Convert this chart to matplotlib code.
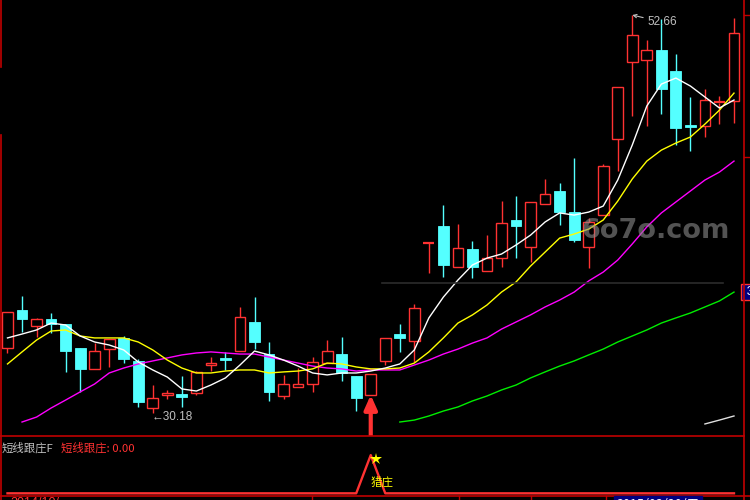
import matplotlib
matplotlib.use('Agg')
import matplotlib.pyplot as plt
import matplotlib.transforms as mtransforms
from matplotlib.patches import Rectangle
import numpy as np

# ---------------- data ----------------
opens = [33.85, 35.99, 35.09, 35.49, 35.21, 33.85, 32.67, 33.79, 34.42, 33.12,
         30.46, 31.20, 31.25, 31.31, 32.89, 33.29, 33.68, 35.32, 33.51, 31.14,
         31.65, 31.82, 33.00, 33.51, 32.27, 31.20, 33.12, 34.64, 34.25, 39.78,
         40.74, 38.43, 39.44, 38.20, 38.93, 41.08, 39.56, 41.98, 42.72, 41.53,
         39.56, 41.36, 45.66, 50.00, 50.12, 50.68, 49.50, 46.45, 46.39, 47.69, 47.80]
highs = [35.88, 36.79, 35.55, 35.83, 35.21, 33.85, 34.13, 34.36, 34.53, 33.23,
         31.76, 31.48, 32.27, 32.55, 33.34, 33.63, 36.17, 36.73, 34.19, 32.33,
         32.72, 33.34, 34.30, 34.47, 32.27, 32.38, 34.42, 35.21, 36.34, 39.78,
         41.93, 40.85, 39.89, 40.23, 42.15, 42.44, 42.10, 43.40, 43.17, 44.58,
         41.20, 44.24, 48.59, 52.66, 51.25, 52.43, 50.46, 48.03, 48.48, 48.09, 52.49]
lows = [33.57, 34.75, 34.47, 34.70, 32.50, 31.37, 32.67, 32.78, 33.00, 30.52,
        30.18, 30.97, 30.52, 31.20, 32.55, 32.61, 33.68, 33.79, 30.86, 30.97,
        31.65, 31.37, 33.00, 31.99, 30.29, 31.20, 32.89, 33.63, 33.06, 38.09,
        37.86, 38.43, 37.80, 38.20, 38.43, 38.93, 38.71, 41.98, 40.80, 39.85,
        38.37, 41.36, 43.85, 46.95, 46.39, 47.07, 45.32, 44.98, 45.77, 46.50, 46.56]
closes = [35.88, 35.49, 35.49, 35.21, 33.68, 32.67, 33.68, 34.36, 33.23, 30.80,
          31.03, 31.31, 31.08, 32.50, 33.00, 33.17, 35.60, 34.19, 31.37, 31.82,
          31.82, 33.06, 33.68, 32.44, 31.03, 32.38, 34.42, 34.42, 36.11, 39.78,
          38.54, 39.50, 38.43, 38.93, 40.91, 40.74, 42.10, 42.55, 41.53, 39.95,
          40.97, 44.13, 48.59, 51.53, 50.68, 48.48, 46.28, 46.33, 47.86, 47.75, 51.64]

ma5 = [34.42, 34.64, 34.87, 35.26, 35.15, 34.53, 34.19, 34.02, 33.74, 33.06,
       32.61, 32.21, 31.54, 31.42, 31.76, 32.16, 32.89, 33.68, 33.46, 33.17,
       32.83, 32.44, 32.33, 32.44, 32.44, 32.55, 32.72, 32.95, 33.74, 35.55,
       36.73, 37.69, 38.54, 38.93, 39.16, 39.67, 40.23, 40.97, 41.48, 41.36,
       41.53, 41.87, 43.34, 45.32, 47.52, 48.76, 49.10, 48.65, 48.03, 47.41, 47.86]
ma10 = [32.95, 33.63, 34.30, 34.81, 34.87, 34.53, 34.42, 34.42, 34.42, 34.19,
        33.74, 33.17, 32.72, 32.44, 32.44, 32.55, 32.61, 32.61, 32.44, 32.50,
        32.55, 32.67, 33.00, 32.95, 32.78, 32.67, 32.67, 32.72, 33.00, 33.63,
        34.42, 35.26, 35.72, 36.28, 37.01, 37.58, 38.48, 39.27, 40.06, 40.29,
        40.57, 41.08, 42.15, 43.40, 44.41, 45.03, 45.43, 45.77, 46.50, 47.29, 48.25]
ma20 = [None, 29.67, 29.95, 30.46, 30.91, 31.37, 31.82, 32.44, 32.72, 32.95,
        33.12, 33.29, 33.46, 33.57, 33.63, 33.57, 33.51, 33.51, 33.34, 33.17,
        33.00, 32.83, 32.72, 32.67, 32.55, 32.61, 32.61, 32.61, 32.89, 33.17,
        33.51, 33.79, 34.13, 34.42, 34.92, 35.32, 35.72, 36.17, 36.56, 37.01,
        37.64, 38.14, 38.82, 39.73, 40.69, 41.48, 42.10, 42.72, 43.34, 43.79, 44.41]
ma60 = [None] * 27 + [29.67, 29.78, 30.01, 30.29, 30.52, 30.86, 31.14, 31.48,
                      31.76, 32.16, 32.50, 32.83, 33.12, 33.46, 33.79, 34.19,
                      34.53, 34.87, 35.26, 35.55, 35.83, 36.17, 36.51, 37.01]
ma_long = [None] * 48 + [29.56, 29.78, 30.01]

signal = [0] * 25 + [1] + [0] * 25

indicator_name = "短线跟庄F"
indicator_value = "短线跟庄: 0.00"
signal_label = "猎庄"
date_label = "2015/03/20/五"

# ---------------- style ----------------
RED = '#ff3232'
CYAN = '#54ffff'
GRAY = '#c0c0c0'
BORDER = '#c00000'

W, H = 750, 500
fig = plt.figure(figsize=(7.5, 5), dpi=100, facecolor='black')


def box(x0, y0, x1, y1):
    return [x0 / W, 1 - y1 / H, (x1 - x0) / W, (y1 - y0) / H]


ax = fig.add_axes(box(0, 0, 743, 436))
ax2 = fig.add_axes(box(0, 436, 743, 496))
for a in (ax, ax2):
    a.set_facecolor('black')
    for s in a.spines.values():
        s.set_visible(False)
    a.set_xticks([])
    a.set_yticks([])
    a.set_xlim(-0.516, 50.62)

ax.set_ylim(28.88, 53.51)
ax2.set_ylim(-0.07, 1.5)

n = len(opens)
x = np.arange(n)
bw = 0.74

for i, (o, h, l, c) in enumerate(zip(opens, highs, lows, closes)):
    top, bot = max(o, c), min(o, c)
    if c >= o:
        if h > top:
            ax.vlines(i, top, h, color=RED, lw=1.0, zorder=2)
        if l < bot:
            ax.vlines(i, l, bot, color=RED, lw=1.0, zorder=2)
        if top - bot < 0.08:
            ax.hlines(top, i - bw / 2, i + bw / 2, color=RED, lw=1.6, zorder=3)
        else:
            ax.add_patch(Rectangle((i - bw / 2, bot), bw, top - bot, fc='black',
                                   ec=RED, lw=1.0, zorder=3))
    else:
        ax.vlines(i, l, h, color=CYAN, lw=1.0, zorder=2)
        ax.add_patch(Rectangle((i - bw / 2, bot), bw, max(top - bot, 0.06),
                               fc=CYAN, ec=CYAN, lw=0.6, zorder=3))


def arr(v):
    return np.array([np.nan if t is None else t for t in v], dtype=float)


ax.plot(x, arr(ma60), color='#00ee00', lw=1.0, zorder=4)
ax.plot(x, arr(ma_long), color='#e0e0e0', lw=1.0, zorder=4)
ax.plot(x, arr(ma20), color='#ff00ff', lw=1.0, zorder=4)
ax.plot(x, arr(ma10), color='#ffff00', lw=1.0, zorder=4)
ax.plot(x, arr(ma5), color='#ffffff', lw=1.0, zorder=5)

# extreme labels
imin = int(np.argmin(lows))
imax = int(np.argmax(highs))
ax.annotate('←' + f'{lows[imin]:.2f}', xy=(imin, lows[imin]), xytext=(-1, -4),
            textcoords='offset pixels', ha='left', va='center', color=GRAY,
            fontsize=8.5, family=['Liberation Sans', 'DejaVu Sans'], zorder=6)
ax.annotate(f'{highs[imax]:.2f}', xy=(imax, highs[imax]), xytext=(15, -7),
            textcoords='offset pixels', ha='left', va='center', color=GRAY,
            fontsize=8.5, family=['Liberation Sans', 'DejaVu Sans'], zorder=6,
            arrowprops=dict(arrowstyle='->', color=GRAY, lw=0.8, shrinkA=1,
                            shrinkB=0, mutation_scale=6))

# signal arrow in the main panel
isig = int(np.argmax(signal))
ax.annotate('', xy=(isig, lows[isig]), xytext=(isig, 28.66),
            annotation_clip=False,
            arrowprops=dict(arrowstyle='-|>,head_length=0.85,head_width=0.38',
                            color=RED, lw=3, shrinkA=0, shrinkB=0), zorder=7)

# lower indicator panel
ax2.plot(x, signal, color=RED, lw=1.7, zorder=3)
ax2.plot([isig + 0.35], [0.9], marker='*', color='#ffff00', markersize=9,
         markeredgewidth=0, zorder=4)
ax2.text(isig, 0.3, signal_label, color='#ffff00', fontsize=8.3, ha='left',
         va='center', family=['Noto Sans CJK SC', 'DejaVu Sans'], zorder=4)
ax2.text(2 / 14.53 - 0.516, 1.2, indicator_name, color=GRAY, fontsize=8.2,
         ha='left', va='center', family=['Noto Sans CJK SC', 'DejaVu Sans'])
ax2.text(61 / 14.53 - 0.516, 1.2, indicator_value, color=RED, fontsize=8.2,
         ha='left', va='center', family=['Noto Sans CJK SC', 'DejaVu Sans'])

# right axis price box (last value of the long moving average)
trans = mtransforms.blended_transform_factory(ax.transAxes, ax.transData)
ax.text(1.0, ma60[-1], f' {ma60[-1]:.2f}', transform=trans, ha='left',
        va='center', color='white', fontsize=9.5, clip_on=False,
        family=['Liberation Sans', 'DejaVu Sans'],
        bbox=dict(boxstyle='square,pad=0.15', fc='#000080', ec=RED, lw=1))

# ---------------- overlay: borders, watermark, bottom strip ----------------
ov = fig.add_axes([0, 0, 1, 1])
ov.set_xlim(0, W)
ov.set_ylim(H, 0)
ov.axis('off')
ov.patch.set_alpha(0)

ov.plot([0.8, 0.8], [0, 67], color=BORDER, lw=1.2)
ov.plot([0.8, 0.8], [135, 500], color=BORDER, lw=1.2)
ov.plot([743.5, 743.5], [0, 500], color=BORDER, lw=1.2)
ov.plot([0, 743.5], [436, 436], color=BORDER, lw=1.2)
ov.plot([0, 750], [496, 496], color=BORDER, lw=1.2)
for yy in (15, 157):
    ov.plot([743.5, 750], [yy, yy], color=BORDER, lw=1.0)
for xx in (312, 459, 531, 606, 692):
    ov.plot([xx, xx], [496, 500], color=BORDER, lw=1.0)

# watermark
ov.plot([382, 723], [283, 283], color='#2c2c2c', lw=1.2)
ov.text(656, 231, '6o7o.com', color='#8c8c8c', alpha=0.6, fontsize=19.5,
        fontweight='bold', ha='center', va='center', family='DejaVu Sans')

# date box at the bottom (mostly cut off)
ov.text(616, 498, date_label, color='white', fontsize=9, ha='left', va='top',
        family=['Noto Sans CJK SC', 'DejaVu Sans'],
        bbox=dict(boxstyle='square,pad=0.2', fc='#000080', ec='#000080'))
ov.text(10, 497, '2014/10/', color=RED, fontsize=9, ha='left', va='top',
        family=['Liberation Sans', 'DejaVu Sans'])

fig.savefig('out.png', dpi=100, facecolor='black')
